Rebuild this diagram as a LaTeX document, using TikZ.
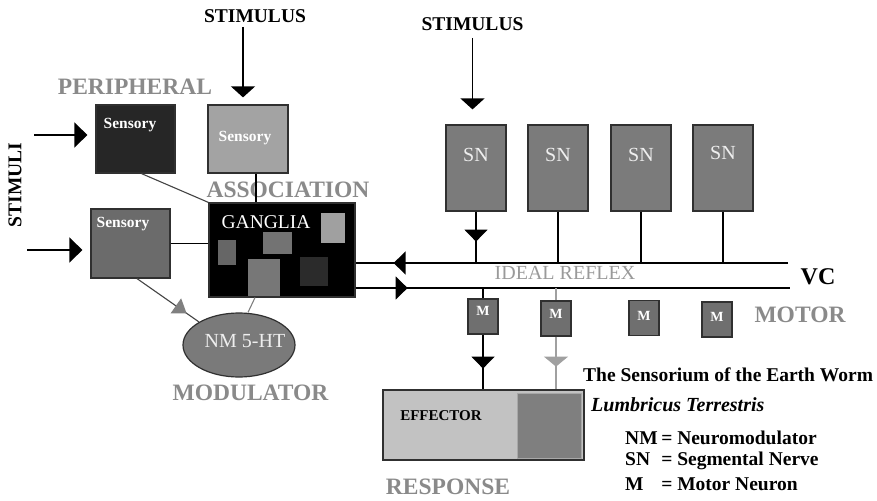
\documentclass[tikz,border=0pt]{standalone}
\usepackage{fontspec}
\setmainfont{Liberation Serif}
\usetikzlibrary{arrows.meta,decorations.markings,shapes.geometric,calc}

\definecolor{sensdark}{HTML}{262626}
\definecolor{senslight}{HTML}{A3A3A3}
\definecolor{sensmid}{HTML}{6B6B6B}
\definecolor{sngray}{HTML}{7B7B7B}
\definecolor{mgray}{HTML}{6F6F6F}
\definecolor{nmgray}{HTML}{7A7A7A}
\definecolor{efflight}{HTML}{C2C2C2}
\definecolor{effdark}{HTML}{7F7F7F}
\definecolor{effrim}{HTML}{A8A8A8}
\definecolor{labelgray}{HTML}{8A8A8A}
\definecolor{reflexgray}{HTML}{9A9A9A}
\definecolor{edge}{HTML}{303030}
\definecolor{wiregray}{HTML}{A0A0A0}
\definecolor{tipgray}{HTML}{808080}
\definecolor{linkgray}{HTML}{444444}
\definecolor{nmtext}{HTML}{EEEEEE}

\tikzset{
  box/.style={rectangle, draw=edge, line width=1.2pt, inner sep=0pt},
  sensbox/.style={box, minimum width=79pt, minimum height=68pt},
  snbox/.style={box, fill=sngray, minimum width=60pt, minimum height=86pt},
  mbox/.style={box, fill=mgray, minimum width=30pt, minimum height=35pt},
  tag/.style={inner sep=0pt, text=labelgray, font=\fontsize{23.5}{26}\selectfont\bfseries},
  stim/.style={inner sep=0pt, font=\fontsize{19.5}{22}\selectfont\bfseries},
  senstxt/.style={inner sep=0pt, text=white, font=\fontsize{15.5}{18}\selectfont\bfseries},
  whitetxt/.style={inner sep=0pt, text=nmtext, font=\fontsize{20}{22}\selectfont},
  mtxt/.style={inner sep=0pt, text=white, font=\fontsize{14}{16}\selectfont\bfseries},
  legend/.style={inner sep=0pt, anchor=west, font=\fontsize{19.5}{22}\selectfont\bfseries},
  wire/.style={line width=1.3pt},
  thinwire/.style={line width=1.1pt},
  bigtip/.style={-{Triangle[length=11pt,width=24pt]}},
  sidetip/.style={-{Triangle[length=13pt,width=25pt]}},
  midtip/.style={postaction={decorate}, decoration={markings,
      mark=at position #1 with {\arrow{Triangle[length=12pt,width=23pt]}}}},
}

\begin{document}
\begin{tikzpicture}[x=1pt,y=-1pt]
\useasboundingbox[fill=white] (0,0) rectangle (877,500);

% ---- peripheral sensory units ----
\node[sensbox, fill=sensdark] (sensA) at (135.5,139) {};
\node[sensbox, fill=senslight, minimum width=80pt] (sensB) at (248,139) {};
\node[sensbox, fill=sensmid, minimum height=69pt] (sensC) at (130.5,243.5) {};
\node[senstxt] (sensAt) at (130,125) {Sensory};
\node[senstxt] (sensBt) at (245,138) {Sensory};
\node[senstxt] (sensCt) at (123,224) {Sensory};

% ---- association ganglia ----
\node[box, fill=black, minimum width=146pt, minimum height=94pt] (gang) at (282,250) {};
\fill[fill={rgb,255:red,160;green,160;blue,160}] (321,213) rectangle (345,243);
\fill[fill={rgb,255:red,115;green,115;blue,115}] (263,232) rectangle (292,254);
\fill[fill={rgb,255:red,102;green,102;blue,102}] (218,240) rectangle (236,265);
\fill[fill={rgb,255:red,119;green,119;blue,119}] (248,259) rectangle (280,296);
\fill[fill={rgb,255:red,43;green,43;blue,43}] (300,257) rectangle (328,286);
\node[inner sep=0pt, text=white, font=\fontsize{19.5}{22}\selectfont] (gangt) at (266,222) {GANGLIA};

% ---- neuromodulator ----
\node[ellipse, draw=edge, fill=nmgray, line width=1.2pt, inner sep=0pt,
      minimum width=112pt, minimum height=64pt] (nm) at (239,345) {};
\node[whitetxt] (nmt) at (245,341) {NM 5-HT};

% ---- segmental nerves ----
\node[snbox] (sn1) at (476,168) {};
\node[snbox] (sn2) at (558,168) {};
\node[snbox] (sn3) at (641,168) {};
\node[snbox] (sn4) at (723,168) {};
\node[whitetxt] (sn1t) at (476,155) {SN};
\node[whitetxt] (sn2t) at (558,155) {SN};
\node[whitetxt] (sn3t) at (641,155) {SN};
\node[whitetxt] (sn4t) at (723,153) {SN};

% ---- motor neurons ----
\node[mbox] (m1) at (483,316.5) {};
\node[mbox] (m2) at (556,318.5) {};
\node[mbox] (m3) at (644,318) {};
\node[mbox] (m4) at (717,319.5) {};
\node[mtxt] (m1t) at (483,311) {M};
\node[mtxt] (m2t) at (556,314) {M};
\node[mtxt] (m3t) at (644,316) {M};
\node[mtxt] (m4t) at (717,317) {M};

% ---- effector ----
\node[box, fill=efflight, minimum width=201pt, minimum height=70pt] (eff) at (483.5,425) {};
\draw[fill=effdark, draw=effrim, line width=1pt] (517,393) rectangle (581,458);
\node[inner sep=0pt, font=\fontsize{15}{17}\selectfont\bfseries] (efft) at (441,416) {EFFECTOR};

% ---- labels ----
\node[tag] (periph) at (135,87) {PERIPHERAL};
\node[tag] (assoc) at (288,190) {ASSOCIATION};
\node[tag] (modul) at (250.5,393) {MODULATOR};
\node[tag] (resp) at (448,487) {RESPONSE};
\node[tag] (motor) at (800,315) {MOTOR};
\node[inner sep=0pt, text=reflexgray, font=\fontsize{20}{22}\selectfont] (reflex) at (565,273) {IDEAL REFLEX};
\node[inner sep=0pt, font=\fontsize{24}{26}\selectfont\bfseries] (vc) at (818,277) {VC};
\node[stim] (stimA) at (255,16) {STIMULUS};
\node[stim] (stimB) at (472.5,24) {STIMULUS};
\node[stim, rotate=90] (stimuli) at (15,185) {STIMULI};

% ---- legend ----
\node[legend] (title) at (583,375) {The Sensorium of the Earth Worm};
\node[legend, font=\fontsize{20}{22}\selectfont\bfseries\itshape] (species) at (591,405) {Lumbricus Terrestris};
\node[legend] (leg1) at (625,438) {\makebox[1.85em][l]{NM}= Neuromodulator};
\node[legend] (leg2) at (625,461) {\makebox[1.85em][l]{SN}= Segmental Nerve};
\node[legend] (leg3) at (625,484) {\makebox[1.85em][l]{M}= Motor Neuron};

% ---- free ends of connectors ----
\coordinate (stA) at (243,27);
\coordinate (stB) at (472.5,38);
\coordinate (inA) at (34,135);
\coordinate (inC) at (27,250);
\coordinate (vcU) at (788,263);
\coordinate (vcL) at (790,288);

% stimulus inputs
\draw[wire, bigtip, shorten >=7pt] (stA) -- (stA |- sensB.north);
\draw[wire, bigtip, shorten >=15pt] (stB) -- (stB |- sn1.north);
\draw[wire, sidetip, shorten >=8pt] (inA) -- (inA -| sensA.west);
\draw[wire, sidetip, shorten >=8pt] (inC) -- (inC -| sensC.west);

% sensory units to the ganglia
\draw[thinwire, draw=linkgray] ([xshift=6pt]sensA.south) -- (gang.north west);
\draw[thinwire] ([xshift=8pt]sensB.south) -- ([xshift=8pt]sensB.south |- gang.north);
\draw[thinwire] (sensC.east) -- (sensC.east -| gang.west);
\draw[thinwire, draw=tipgray] ([xshift=-27pt]gang.south) -- ([xshift=9pt]nm.north);
\draw[thinwire, draw=linkgray, postaction={decorate}, decoration={markings,
      mark=at position 0.8 with {\arrow{Triangle[length=13pt,width=18pt,color=tipgray]}}}]
  ([xshift=6.5pt]sensC.south) -- (nm.north west);

% ventral cord
\draw[wire, midtip=-38pt] (vcU) -- (vcU -| gang.east);
\draw[wire, midtip=52pt] (vcL -| gang.east) -- (vcL);

% segmental nerves to the cord
\draw[wire, midtip=30pt] (sn1.south) -- (sn1.south |- vcU);
\draw[wire] (sn2.south) -- (sn2.south |- vcU);
\draw[wire] (sn3.south) -- (sn3.south |- vcU);
\draw[wire] (sn4.south) -- (sn4.south |- vcU);

% motor pathway
\draw[wire] (m1.north |- vcL) -- (m1.north);
\draw[wire, midtip=34pt] (m1.south) -- (m1.south |- eff.north);
\draw[wire, draw=wiregray] (m2.north |- vcL) -- (m2.north);
\draw[wire, draw=wiregray, postaction={decorate}, decoration={markings,
      mark=at position 30pt with {\arrow{Triangle[length=10pt,width=24pt,color=wiregray]}}}]
  (m2.south) -- (m2.south |- eff.north);
\end{tikzpicture}
\end{document}
